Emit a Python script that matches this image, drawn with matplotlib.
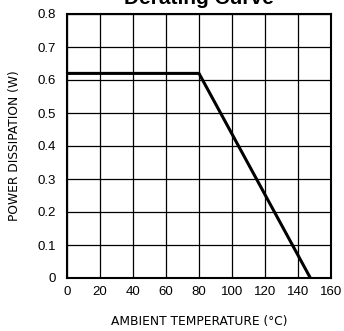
import matplotlib
matplotlib.use("Agg")
import matplotlib.pyplot as plt

temps = [0, 80, 147.5]
power = [0.62, 0.62, 0.0]
xticks = [0, 20, 40, 60, 80, 100, 120, 140, 160]
yticks = [0, 0.1, 0.2, 0.3, 0.4, 0.5, 0.6, 0.7, 0.8]
ytick_labels = ["0", "0.1", "0.2", "0.3", "0.4", "0.5", "0.6", "0.7", "0.8"]

fig = plt.figure(figsize=(3.44, 3.31), dpi=100)
ax = fig.add_axes([67/344, 1 - 278/331, 264/344, 264/331])
ax.plot(temps, power, color="black", lw=2.2, solid_capstyle="butt", zorder=3)
ax.set_xlim(0, 160)
ax.set_ylim(0, 0.8)
ax.set_xticks(xticks)
ax.set_yticks(yticks)
ax.set_yticklabels(ytick_labels)
ax.grid(True, color="black", lw=0.9)
ax.tick_params(length=0, labelsize=9.5)
ax.tick_params(axis="x", pad=6)
ax.tick_params(axis="y", pad=8)
for lab in ax.get_xticklabels() + ax.get_yticklabels():
    lab.set_family("Liberation Sans")
for s in ax.spines.values():
    s.set_linewidth(1.5)
ax.set_xlabel("AMBIENT TEMPERATURE (°C)", fontsize=8.8, family="DejaVu Sans", labelpad=12)
ax.set_ylabel("POWER DISSIPATION (W)", fontsize=8.8, family="DejaVu Sans", labelpad=12)
fig.text((67 + 331) / 2 / 344, 1 - 4 / 331, "Derating Curve", ha="center", va="baseline",
         fontsize=15, fontweight="bold", family="Liberation Sans")
fig.savefig("out.png", dpi=100)
